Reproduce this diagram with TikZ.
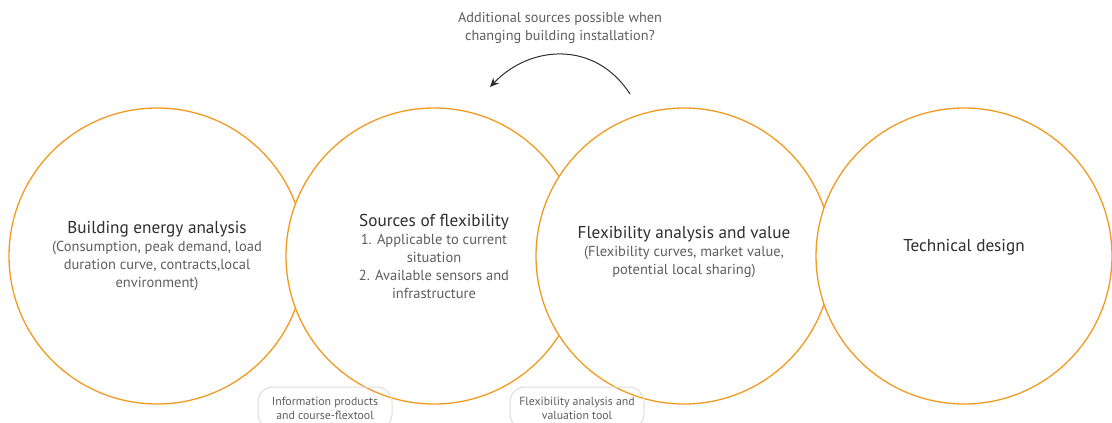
\documentclass[tikz,border=0pt]{standalone}
\usepackage{fontspec}
\setmainfont{PT Sans}
\usetikzlibrary{arrows.meta, positioning}

\definecolor{ringorange}{HTML}{F29A1F}
\definecolor{titlegray}{HTML}{2E2E2E}
\definecolor{subgray}{HTML}{5E5E5E}
\definecolor{pillgray}{HTML}{DDDDDD}

\tikzset{
  ring/.style={circle, draw=ringorange, fill=white, line width=1.3pt, minimum size=296pt,
    inner sep=0pt, align=center, text=subgray,
    font=\fontsize{14.5}{18}\selectfont},
  pill/.style={draw=pillgray, line width=1pt, rounded corners=15pt,
    minimum width=134pt, minimum height=42pt, align=center,
    text=subgray, font=\fontsize{11.8}{14}\selectfont},
}
\newcommand{\ringtitle}{\color{titlegray}\fontsize{17.2}{19}\selectfont}

\begin{document}
\begin{tikzpicture}[x=1pt,y=-1pt]

    % Frame of the picture
    \clip (0,0) rectangle (1112,423);

    % The four steps, each one laid over the one before
    \node[ring] (energy) at (157,256) {\ringtitle Building energy analysis\\
      (Consumption, peak demand, load\\duration curve, contracts,local\\environment)};
    \node[ring] (sources) at (434,256) {\ringtitle Sources of flexibility\\
      1. Applicable to current\\situation\\2. Available sensors and\\infrastructure};
    \node[ring] (flexvalue) at (684,256) {\ringtitle Flexibility analysis and value\\
      (Flexibility curves, market value,\\potential local sharing)\\[-6pt]};
    \node[ring] (techdesign) at (964,256) {\ringtitle Technical design\\[3pt]};

    % Tools under the circles
    \node[pill] (infotool) at (325,408) {Information products\\and course-flextool};
    \node[pill] (valtool) at (577,408) {Flexibility analysis and\\valuation tool};

    % Question and bent arrow
    \node[text=subgray, align=center, font=\fontsize{14.3}{18}\selectfont] (question) at (560,28)
      {Additional sources possible when\\changing building installation?};
    \coordinate (arrfrom) at (630,94);
    \coordinate (arrto) at (490,87);
    \draw[titlegray, line width=1pt, -{Stealth[length=9pt, width=8pt]}]
      (arrfrom) .. controls (595,40) and (530,45) .. (arrto);

\end{tikzpicture}
\end{document}
